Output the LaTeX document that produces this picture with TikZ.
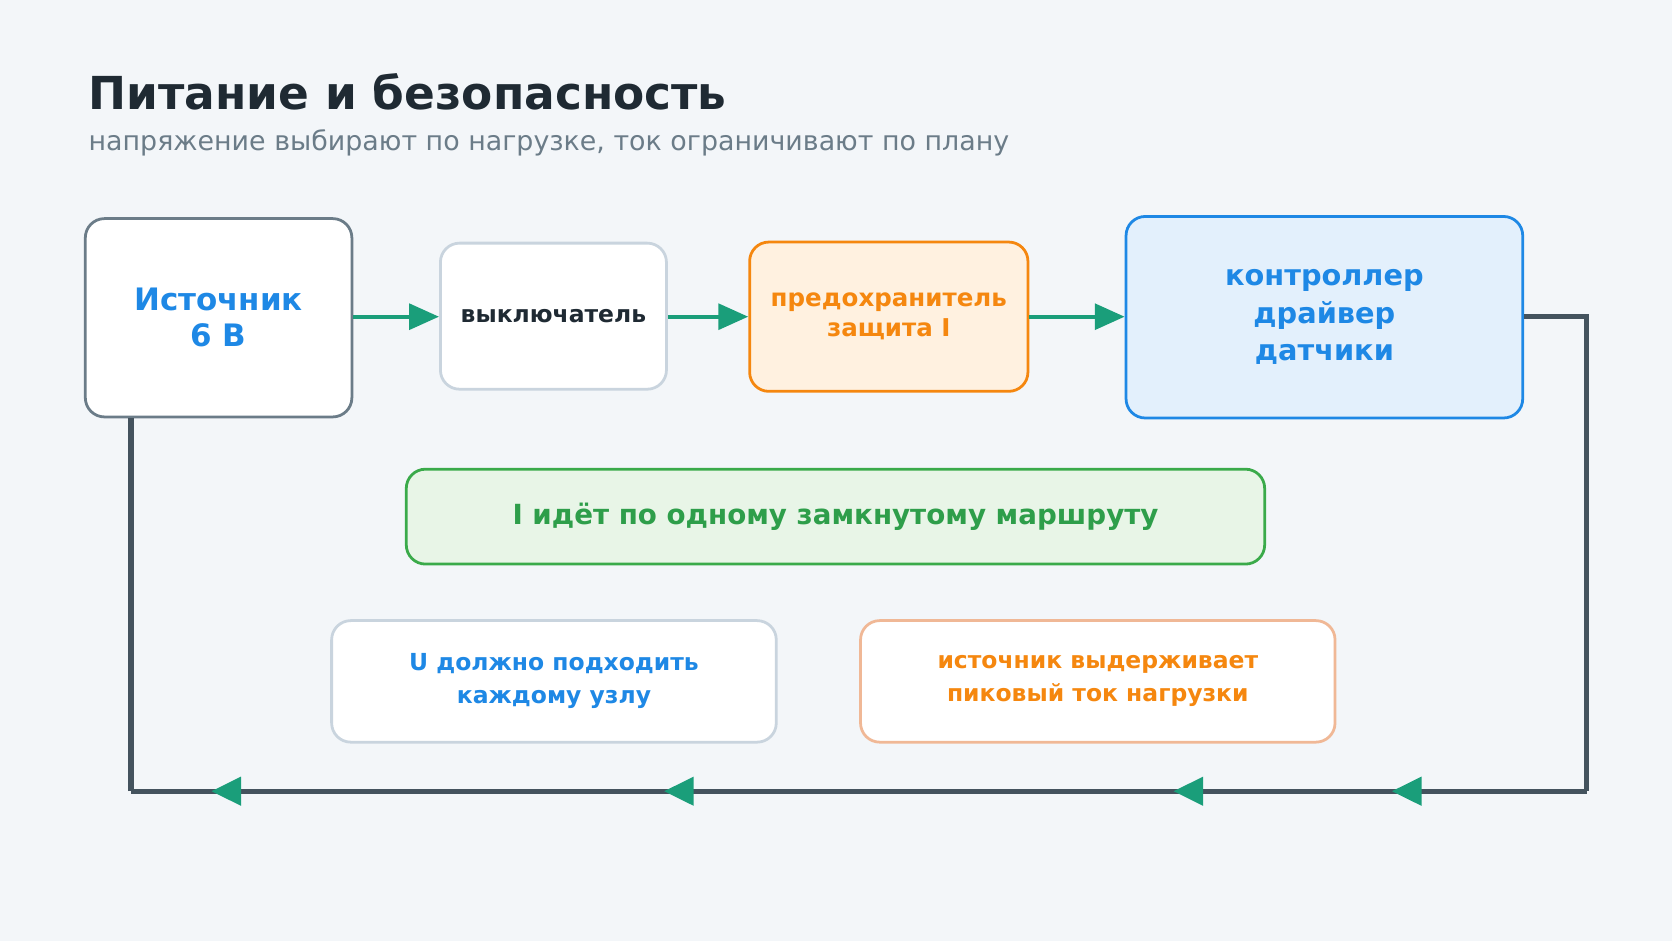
\documentclass[tikz,border=0pt]{standalone}
\usepackage{fontspec}
\setmainfont{DejaVu Sans}
\usetikzlibrary{arrows.meta,decorations.markings}
\definecolor{bg}{HTML}{F3F6F9}
\definecolor{ink}{HTML}{1F2A33}
\definecolor{sub}{HTML}{6B7C88}
\definecolor{blu}{HTML}{1E88E5}
\definecolor{org}{HTML}{F5870F}
\definecolor{grn}{HTML}{2E9E4A}
\definecolor{tl}{HTML}{1A9E7A}
\definecolor{wire}{HTML}{44535E}
\definecolor{bfill}{HTML}{E3F0FC}
\definecolor{gfill}{HTML}{E8F5E7}
\definecolor{ofill}{HTML}{FFF1E0}
\definecolor{gb}{HTML}{C9D4DE}
\definecolor{ob}{HTML}{F0B896}
\definecolor{gbd}{HTML}{3AAA4A}
\begin{document}
\begin{tikzpicture}[x=0.5pt,y=-0.5pt,
 box/.style={draw,rounded corners=9pt,line width=1.3pt,align=center,font=\bfseries,inner sep=0},
 flow/.style={draw=tl,line width=2pt,-{Triangle[length=14pt,width=12pt]}},
 ret/.style={draw=wire,line width=2.5pt},
 mk/.style={postaction={decorate},decoration={markings,
   mark=at position 0.134 with {\arrow{Triangle[length=14pt,width=13pt,color=tl]}},
   mark=at position 0.284 with {\arrow{Triangle[length=14pt,width=13pt,color=tl]}},
   mark=at position 0.634 with {\arrow{Triangle[length=14pt,width=13pt,color=tl]}},
   mark=at position 0.945 with {\arrow{Triangle[length=14pt,width=13pt,color=tl]}}}}]
\fill[bg] (0,0) rectangle (1568,882);
\useasboundingbox (0,0) rectangle (1568,882);
\node[anchor=west,font=\bfseries\fontsize{21.3}{25}\selectfont,text=ink] (t) at (76,86) {Питание и безопасность};
\node[anchor=west,font=\fontsize{12.6}{15}\selectfont,text=sub] (s) at (76,134) {напряжение выбирают по нагрузке, ток ограничивают по плану};
\node[box,draw=sub,fill=white,text=blu,minimum width=125pt,minimum height=93pt,font=\bfseries\fontsize{14.5}{17}\selectfont] (src) at (205,298) {Источник\\6 В};
\node[box,draw=gb,fill=white,text=ink,minimum width=106pt,minimum height=68.5pt,font=\bfseries\fontsize{11}{14}\selectfont] (sw) at (519,296.5) {выключатель};
\node[box,draw=org,fill=ofill,text=org,minimum width=130.5pt,minimum height=70pt,font=\bfseries\fontsize{11.5}{14}\selectfont] (fu) at (833.5,297) {предохранитель\\защита I};
\node[box,draw=blu,fill=bfill,text=blu,minimum width=186pt,minimum height=94.5pt,font=\bfseries\fontsize{13.5}{17.5}\selectfont] (ctl) at (1242,297.5) {контроллер\\драйвер\\датчики};
\node[box,draw=gbd,fill=gfill,text=grn,minimum width=402.5pt,minimum height=44.5pt,font=\bfseries\fontsize{13}{16}\selectfont] (g) at (783.5,484.5) {I идёт по одному замкнутому маршруту};
\node[box,draw=gb,fill=white,text=blu,minimum width=208.5pt,minimum height=57pt,font=\bfseries\fontsize{11}{15.5}\selectfont] (u) at (519.5,639) {U должно подходить\\каждому узлу};
\node[box,draw=ob,fill=white,text=org,minimum width=222.5pt,minimum height=57pt,font=\bfseries\fontsize{11}{15.5}\selectfont] (pk) at (1029.5,639) {источник выдерживает\\пиковый ток нагрузки};
\draw[flow] (src.east|-0,297) -- (sw.west|-0,297);
\draw[flow] (sw.east|-0,297) -- (fu.west|-0,297);
\draw[flow] (fu.east|-0,297) -- (ctl.west|-0,297);
\coordinate (c1) at (1488,297);
\coordinate (c2) at (1488,742);
\coordinate (c3) at (123,742);
\draw[ret] (ctl.east|-c1) -- (c1) -- (c2);
\draw[ret,mk] (c2) -- (c3);
\draw[ret] (c3) -- (c3|-src.south);
\end{tikzpicture}
\end{document}
